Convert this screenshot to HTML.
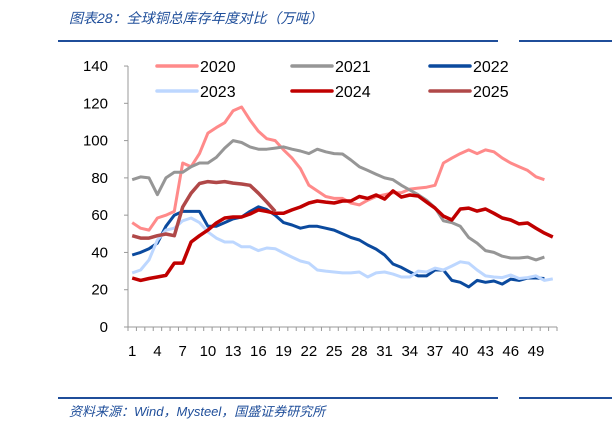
<!DOCTYPE html>
<html><head><meta charset="utf-8"><style>
html,body{margin:0;padding:0;background:#fff;}
body{width:612px;height:430px;position:relative;overflow:hidden;font-family:"Liberation Sans","Noto Sans CJK SC",sans-serif;}
.t{position:absolute;color:#1F4E9A;font-style:italic;}
</style></head><body>
<div class="t" style="left:69px;top:8px;font-size:14px;">图表28：全球铜总库存年度对比（万吨）</div>
<div style="position:absolute;left:58px;top:40px;width:440px;height:2px;background:#1F4E9A"></div>
<div style="position:absolute;left:519px;top:40px;width:93px;height:2px;background:#1F4E9A"></div>
<div style="position:absolute;left:58px;top:397px;width:440px;height:2px;background:#1F4E9A"></div>
<div style="position:absolute;left:519px;top:397px;width:93px;height:2px;background:#1F4E9A"></div>
<div class="t" style="left:69px;top:401px;font-size:13px;">资料来源：Wind，Mysteel，国盛证券研究所</div>
<svg id="c" width="612" height="430" style="position:absolute;left:0;top:0" xmlns="http://www.w3.org/2000/svg"></svg>
<script>
var s=document.getElementById('c'),h='';
var X0=128,X1=557,Y0=327,K=1.864,N=51,W=(X1-X0)/N;
function px(i){return X0+W*(i+0.5);}function py(v){return Y0-v*K;}
h+='<line x1="'+X0+'" y1="66" x2="'+X0+'" y2="'+Y0+'" stroke="#999" stroke-width="1"/>';
h+='<line x1="'+X0+'" y1="'+Y0+'" x2="'+X1+'" y2="'+Y0+'" stroke="#999" stroke-width="1"/>';
for(var i=0;i<=N;i++){var x=X0+W*i;h+='<line x1="'+x+'" y1="'+Y0+'" x2="'+x+'" y2="'+(Y0+4)+'" stroke="#999"/>';}
for(var v=0;v<=140;v+=20){h+='<line x1="'+(X0-4)+'" y1="'+py(v)+'" x2="'+X0+'" y2="'+py(v)+'" stroke="#999"/>';h+='<text x="108" y="'+(py(v)+5)+'" font-size="15" text-anchor="end">'+v+'</text>';}
for(var w=1;w<=49;w+=3){h+='<text x="'+px(w-1)+'" y="356" font-size="15" text-anchor="middle">'+w+'</text>';}
var D={
'#FF8A8A':[56,53,52,58.5,60,62,88,86,93,104,107,109.6,116,118,111,105,101,100,95,90.6,85,76,73,70,69,69,66.5,65.5,68,70,71,72,72,74,74.5,75,76,88,90.6,93,95,93,95,94,90.6,88,86,84,80.6,79],
'#969696':[79,80.5,80,71,80,83,83,86,88,88,91,96,100,99,96.6,95.4,95.4,96,96.6,95.4,94.4,93,95.4,94,93,92.8,89.6,86,84,82,80,79,76,73.5,71,68,64,57,56,54,48,45,41,40,38,37,37,37.5,36,37.5],
'#0B4A9E':[38.6,40,42,45,54,60,62,62,62,54,54,56,58,59,62,64.5,63,60,56,54.7,53,54,54,53,52,50,48,46.7,44,41.8,38.6,33.8,32,29.5,27.4,27.4,30.6,30.6,25,24,21.5,25,24,24.7,23,25.7,25,26.3,26.3,26],
'#BDD7FF':[29,30.6,36,46.7,52,53,57,58.5,56,51,47.7,45.6,45.6,43,43,41,42.4,42,39.7,37.5,35.4,34.3,30.6,30,29.5,29,29,29.5,26.8,29,29.5,28.4,26.8,26.8,30,29.5,31.6,30.6,32.7,35,34.3,30.6,27.4,26.8,26.5,27.9,26,26.5,27.4,25,25.8],
'#C00000':[26.3,25,26,26.8,27.7,34.3,34.3,45.6,49,52,55.8,58.5,59,59,60.6,62.8,62,61,61,62.8,64.4,66.5,67.6,67,66.5,67.6,67.6,70,69,70.8,68.6,73,69.7,70.8,70.3,67,63.8,59.5,57.4,63.3,63.8,62.2,63.3,61,58.5,57.4,55.3,55.8,53,50.4,48.3],
'#B04848':[49,47.7,47.7,49,49.9,49,64.4,71.8,77,78,77.5,78,77.2,76.7,76,71.8,67,62]};
var order=['#FF8A8A','#969696','#0B4A9E','#BDD7FF','#C00000','#B04848'];
order.forEach(function(c){var p=D[c].map(function(v,i){return px(i).toFixed(1)+','+py(v).toFixed(1);}).join(' ');
h+='<polyline points="'+p+'" fill="none" stroke="'+c+'" stroke-width="'+(c=='#C00000'||c=='#B04848'?3.5:3)+'" stroke-linejoin="round"/>';});
var L=[['#FF8A8A','2020',157,66],['#969696','2021',292,66],['#0B4A9E','2022',430,66],['#BDD7FF','2023',157,91],['#C00000','2024',292,91],['#B04848','2025',430,91]];
L.forEach(function(l){h+='<line x1="'+l[2]+'" y1="'+l[3]+'" x2="'+(l[2]+40)+'" y2="'+l[3]+'" stroke="'+l[0]+'" stroke-width="3.5" stroke-linecap="round"/>';h+='<text x="'+(l[2]+43)+'" y="'+(l[3]+6)+'" font-size="16">'+l[1]+'</text>';});
s.innerHTML=h;
</script>
</body></html>
